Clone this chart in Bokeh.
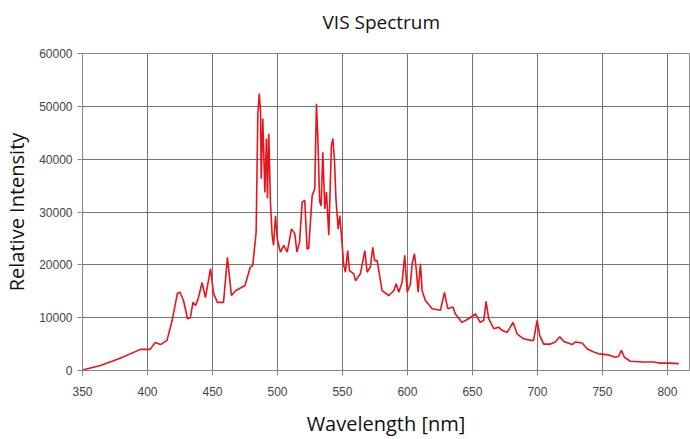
from bokeh.plotting import figure
from bokeh.embed import file_html
from bokeh.resources import INLINE
from bokeh.models import Range1d, FixedTicker, Title

wavelength = [350, 363.8, 379, 394.6, 402, 406, 410, 415, 419, 423, 425, 427.7, 430.8, 433, 435, 437,
              439, 442, 444.6, 448.5, 450.8, 453.8, 458.5, 461.5, 464.6, 467.7, 475, 479, 481, 483.6,
              484.9, 486, 487, 487.5, 488.7, 490.3, 491.5, 492.3, 493.3, 494.6, 495.9, 497, 498.5,
              499.8, 502.3, 504.8, 507.5, 510.8, 513.3, 515, 517, 519, 521, 522.8, 524, 526.7, 528.7,
              530, 531, 532.5, 533.6, 534.9, 536.4, 537.7, 539.5, 541.5, 542.6, 543.8, 545, 546.7,
              548, 549, 551, 552.3, 554, 555.4, 558.7, 560, 563.8, 567.2, 569, 571.5, 573.3, 574.8,
              576.7, 580.5, 585.6, 589.5, 591.3, 593.3, 595.9, 597.9, 599.8, 602.3, 603.6, 605.4,
              606.9, 608.2, 610, 611.3, 613.8, 619, 625.4, 628.5, 631, 635, 636.9, 642, 647, 652.3,
              656, 658.7, 660.5, 662.5, 666.4, 670.2, 672.8, 676.7, 681.3, 684.4, 689.5, 694.6, 697,
              699.8, 701.8, 704.8, 710, 713.8, 717.2, 720.3, 726.7, 729.2, 734.4, 738.2, 743.3, 747.2,
              754.8, 760, 762.5, 764.6, 766.9, 771.5, 781.8, 789.5, 794.6, 802.3, 808.7]
intensity = [100, 950, 2300, 4000, 4000, 5300, 4900, 5700, 9500, 14600, 14800, 13250, 9800, 10000, 12900, 12300,
             13600, 16600, 13800, 19300, 14600, 12900, 12900, 21400, 14200, 15100, 16100, 19500, 19900, 26200,
             48600, 52400, 48900, 36300, 47700, 33700, 43900, 32600, 44800, 31900, 25600, 23700, 29300,
             24900, 22400, 23700, 22400, 26800, 25900, 22400, 24300, 31900, 32200, 23000, 23100, 33100, 34400,
             50500, 44500, 31900, 31200, 41300, 30600, 33800, 25600, 42600, 43900, 40100, 32500, 26800,
             29300, 26200, 19900, 18600, 22700, 18900, 18300, 17000, 18300, 22700, 18600, 19600, 23300, 20800,
             20800, 15100, 14200, 15100, 16400, 14800, 16700, 21800, 14800, 16400, 20200, 22100,
             18900, 14800, 20200, 15100, 13250, 11700, 11400, 14800, 11700, 12000, 10700, 9100, 9800, 10700,
             9100, 9500, 13100, 9800, 7900, 8200, 7600, 7200, 9100, 6900, 6000, 5700, 5700,
             9500, 6600, 5000, 5000, 5400, 6400, 5500, 4900, 5400, 5200, 4100, 3500, 3150,
             2950, 2500, 2700, 3800, 2500, 1750, 1600, 1600, 1400, 1400, 1300]

x_ticks = [350, 400, 450, 500, 550, 600, 650, 700, 750, 800]
y_ticks = [0, 10000, 20000, 30000, 40000, 50000, 60000]
title_text = "VIS Spectrum"

p = figure(width=690, height=439, output_backend="svg", toolbar_location=None,
           x_range=Range1d(350, 817), y_range=Range1d(0, 60000),
           title=title_text, min_border_left=82, min_border_right=1,
           min_border_top=0, min_border_bottom=69)

p.title.align = "left"
p.title.text_font = "Open Sans"
p.title.text_font_size = "19px"
p.title.text_font_style = "normal"
p.title.text_color = "#111111"
p.title.offset = 240
p.title.standoff = 12

# spacer between title and plot frame
p.add_layout(Title(text=" ", text_font_size="10px", standoff=0), "above")

p.line(wavelength, intensity, line_color="#e8141c", line_width=1.6)

for ax in (p.xaxis, p.yaxis):
    ax.major_label_text_font = "Liberation Sans"
    ax.major_label_text_font_size = "12px"
    ax.major_label_text_color = "#444444"
    ax.axis_label_text_font = "Open Sans"
    ax.axis_label_text_font_size = "20px"
    ax.axis_label_text_font_style = "normal"
    ax.axis_label_text_color = "#111111"
    ax.axis_line_color = "#888888"
    ax.major_tick_line_color = "#888888"
    ax.major_tick_out = 5
    ax.major_tick_in = 0
    ax.minor_tick_line_color = None

p.xaxis.ticker = FixedTicker(ticks=x_ticks)
p.yaxis.ticker = FixedTicker(ticks=y_ticks)
p.xaxis.axis_label = "Wavelength [nm]"
p.yaxis.axis_label = "Relative Intensity"
p.xaxis.major_label_standoff = 11
p.xaxis.axis_label_standoff = 11
p.yaxis.major_label_standoff = 5
p.yaxis.axis_label_standoff = 6
p.yaxis.formatter.use_scientific = False

p.xgrid.ticker = FixedTicker(ticks=x_ticks)
p.ygrid.ticker = FixedTicker(ticks=y_ticks)
p.grid.grid_line_color = "#666666"
p.grid.grid_line_width = 1
p.grid.grid_line_alpha = 0.9
p.outline_line_color = "#888888"

open("out.html", "w").write(file_html(p, INLINE))
